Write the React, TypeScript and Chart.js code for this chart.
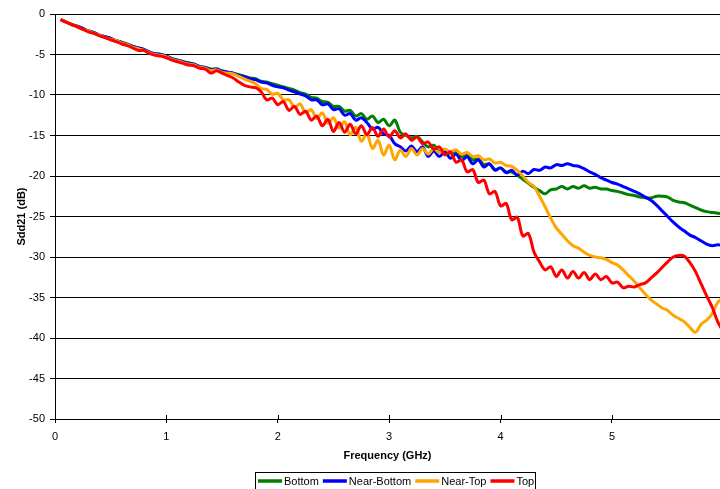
import { useEffect, useRef } from "react";
import { Chart, registerables } from "chart.js";

Chart.register(...registerables);

const FREQ_GHZ = [
  0.05, 0.1, 0.15, 0.2, 0.25, 0.3, 0.35, 0.4, 0.45, 0.5,
  0.55, 0.6, 0.65, 0.7, 0.75, 0.8, 0.85, 0.9, 0.95, 1.0,
  1.05, 1.1, 1.15, 1.2, 1.25, 1.3, 1.35, 1.4, 1.45, 1.5,
  1.55, 1.6, 1.65, 1.7, 1.75, 1.8, 1.85, 1.9, 1.95, 2.0,
  2.05, 2.1, 2.15, 2.2, 2.25, 2.3, 2.35, 2.4, 2.45, 2.5,
  2.55, 2.6, 2.65, 2.7, 2.75, 2.8, 2.85, 2.9, 2.95, 3.0,
  3.05, 3.1, 3.15, 3.2, 3.25, 3.3, 3.35, 3.4, 3.45, 3.5,
  3.55, 3.6, 3.65, 3.7, 3.75, 3.8, 3.85, 3.9, 3.95, 4.0,
  4.05, 4.1, 4.15, 4.2, 4.25, 4.3, 4.35, 4.4, 4.45, 4.5,
  4.55, 4.6, 4.65, 4.7, 4.75, 4.8, 4.85, 4.9, 4.95, 5.0,
  5.05, 5.1, 5.15, 5.2, 5.25, 5.3, 5.35, 5.4, 5.45, 5.5,
  5.55, 5.6, 5.65, 5.7, 5.75, 5.8, 5.85, 5.9, 5.95, 6.0,
];

const BOTTOM = [
  -0.7, -1.0, -1.3, -1.5, -1.8, -2.1, -2.3, -2.6, -2.8, -3.0,
  -3.3, -3.5, -3.7, -4.0, -4.2, -4.4, -4.7, -4.9, -5.0, -5.2,
  -5.5, -5.7, -5.9, -6.0, -6.2, -6.5, -6.6, -6.8, -6.8, -7.0,
  -7.2, -7.3, -7.5, -7.7, -7.9, -8.0, -8.3, -8.4, -8.6, -8.8,
  -9.0, -9.2, -9.4, -9.7, -9.9, -10.3, -10.4, -10.8, -10.9, -11.4,
  -11.4, -12.0, -11.9, -12.6, -12.3, -13.0, -12.6, -13.4, -13.0, -13.8,
  -13.1, -14.6, -15.0, -15.3, -15.1, -15.8, -16.4, -16.2, -17.0, -16.7,
  -17.2, -17.0, -17.6, -17.4, -18.0, -17.9, -18.6, -18.5, -19.2, -19.0,
  -19.5, -19.5, -19.9, -20.4, -20.9, -21.4, -21.8, -22.2, -21.7, -21.6,
  -21.3, -21.6, -21.3, -21.5, -21.2, -21.5, -21.4, -21.6, -21.6, -21.8,
  -21.9, -22.1, -22.3, -22.4, -22.6, -22.7, -22.7, -22.5, -22.5, -22.6,
  -23.0, -23.2, -23.3, -23.6, -23.9, -24.2, -24.4, -24.5, -24.6, -24.7,
];

const NEAR_BOTTOM = [
  -0.7, -1.0, -1.3, -1.5, -1.8, -2.1, -2.3, -2.6, -2.8, -3.0,
  -3.3, -3.5, -3.8, -4.0, -4.2, -4.4, -4.7, -4.9, -5.0, -5.2,
  -5.5, -5.7, -5.9, -6.1, -6.2, -6.5, -6.6, -6.9, -6.8, -7.1,
  -7.2, -7.3, -7.6, -7.7, -8.0, -8.1, -8.4, -8.5, -8.8, -9.0,
  -9.1, -9.4, -9.6, -9.9, -10.1, -10.6, -10.6, -11.2, -11.1, -11.8,
  -11.7, -12.5, -12.3, -13.1, -12.8, -13.4, -14.2, -14.0, -14.8, -15.0,
  -16.0, -16.4, -16.9, -16.3, -17.0, -16.4, -17.6, -16.9, -17.6, -17.0,
  -17.8, -17.3, -18.1, -17.6, -18.5, -18.0, -18.9, -18.5, -19.3, -19.0,
  -19.6, -19.3, -19.9, -19.4, -19.7, -19.2, -19.3, -18.9, -19.0, -18.6,
  -18.7, -18.5, -18.7, -18.8, -19.1, -19.5, -19.8, -20.2, -20.5, -20.8,
  -21.0, -21.3, -21.6, -21.9, -22.2, -22.6, -23.0, -23.6, -24.3, -25.0,
  -25.7, -26.3, -26.8, -27.3, -27.6, -28.0, -28.4, -28.6, -28.5, -28.6,
];

const NEAR_TOP = [
  -0.7, -1.0, -1.3, -1.6, -1.9, -2.1, -2.4, -2.6, -2.9, -3.1,
  -3.3, -3.6, -3.8, -4.1, -4.3, -4.5, -4.8, -5.0, -5.1, -5.3,
  -5.6, -5.8, -6.0, -6.2, -6.3, -6.6, -6.7, -7.0, -6.9, -7.2,
  -7.3, -7.4, -7.7, -8.0, -8.3, -8.6, -9.2, -9.3, -9.9, -9.8,
  -10.6, -10.6, -11.5, -11.1, -12.2, -11.8, -12.9, -12.2, -13.5, -12.8,
  -14.1, -13.3, -14.9, -14.0, -15.7, -14.8, -16.6, -15.6, -17.4, -16.2,
  -18.0, -16.8, -17.6, -16.6, -17.4, -16.6, -17.3, -16.6, -17.1, -16.7,
  -17.0, -16.8, -17.3, -17.1, -17.6, -17.5, -18.0, -17.9, -18.4, -18.3,
  -18.7, -18.8, -19.3, -20.0, -20.8, -21.3, -22.5, -23.8, -25.2, -26.4,
  -27.2, -28.0, -28.6, -28.9, -29.4, -29.8, -30.0, -30.1, -30.3, -30.7,
  -31.0, -31.6, -32.3, -33.0, -33.8, -34.6, -35.3, -35.8, -36.3, -36.6,
  -37.2, -37.6, -38.0, -38.7, -39.3, -38.3, -37.8, -37.0, -35.6, -35.0,
];

const TOP = [
  -0.7, -1.0, -1.3, -1.6, -1.9, -2.2, -2.4, -2.7, -2.9, -3.2,
  -3.4, -3.7, -3.9, -4.2, -4.5, -4.5, -4.9, -5.1, -5.2, -5.4,
  -5.7, -5.9, -6.1, -6.3, -6.4, -6.7, -6.8, -7.3, -7.0, -7.3,
  -7.6, -7.9, -8.4, -8.8, -9.0, -9.1, -9.6, -10.6, -10.4, -11.2,
  -10.8, -11.9, -11.4, -12.4, -12.0, -13.1, -12.6, -13.8, -13.0, -14.5,
  -13.4, -14.6, -13.6, -14.8, -13.8, -14.9, -14.0, -15.1, -14.2, -15.2,
  -14.4, -15.3, -14.8, -15.6, -15.2, -16.0, -15.8, -16.7, -16.4, -17.4,
  -17.0, -18.3, -18.0, -19.5, -19.2, -20.8, -20.5, -22.2, -21.9, -23.7,
  -23.4, -25.4, -25.1, -27.4, -27.1, -29.4, -30.6, -31.6, -31.2, -32.4,
  -31.6, -32.6, -31.8, -32.6, -31.9, -32.8, -32.1, -32.8, -32.4, -33.2,
  -33.1, -33.8, -33.6, -33.7, -33.4, -33.2, -32.6, -32.0, -31.3, -30.6,
  -30.0, -29.8, -29.9, -30.7, -31.8, -33.3, -34.8, -36.2, -38.0, -39.2,
];

const SERIES_NAMES = ["Bottom", "Near-Bottom", "Near-Top", "Top"];
const SERIES_VALUES = [BOTTOM, NEAR_BOTTOM, NEAR_TOP, TOP];
const SERIES_COLORS = ["#008000", "#0000FF", "#FFA500", "#FF0000"];

const X_MIN = 0;
const X_MAX = 5.97;
const Y_MIN = -50;
const Y_MAX = 0;
const X_TITLE = "Frequency (GHz)";
const Y_TITLE = "Sdd21 (dB)";

const FONT_FAMILY = 'Arial, "Liberation Sans", sans-serif';

const boxLegend = {
  id: "boxLegend",
  afterDraw(chart: any) {
    const ctx = chart.ctx as CanvasRenderingContext2D;
    ctx.save();
    ctx.font = `11px ${FONT_FAMILY}`;
    const lineW = 24;
    const gapText = 2;
    const gapItem = 4;
    const pad = 2;
    const widths = SERIES_NAMES.map((n) => ctx.measureText(n).width);
    const total =
      widths.reduce((a, w) => a + lineW + gapText + w, 0) +
      gapItem * (SERIES_NAMES.length - 1) +
      pad * 2;
    const cx = 395;
    const left = Math.round(cx - total / 2);
    const top = 472;
    ctx.strokeStyle = "#000";
    ctx.lineWidth = 1;
    ctx.strokeRect(left + 0.5, top + 0.5, Math.round(total), 40);
    let x = left + pad + 1;
    const y = 481;
    SERIES_NAMES.forEach((name, i) => {
      ctx.strokeStyle = SERIES_COLORS[i];
      ctx.lineWidth = 3.5;
      ctx.beginPath();
      ctx.moveTo(x, y);
      ctx.lineTo(x + lineW, y);
      ctx.stroke();
      x += lineW + gapText;
      ctx.fillStyle = "#000";
      ctx.textBaseline = "middle";
      ctx.textAlign = "left";
      ctx.fillText(name, x, y + 0.5);
      x += widths[i] + gapItem;
    });
    ctx.restore();
  },
};

const upTicks = {
  id: "upTicks",
  afterDatasetsDraw(chart: any) {
    const ctx = chart.ctx as CanvasRenderingContext2D;
    const xs = chart.scales.x;
    const bottom = chart.chartArea.bottom;
    ctx.save();
    ctx.strokeStyle = "#000";
    ctx.lineWidth = 1;
    xs.ticks.forEach((t: any) => {
      const px = Math.round(xs.getPixelForValue(t.value)) + 0.5;
      ctx.beginPath();
      ctx.moveTo(px, bottom - 4);
      ctx.lineTo(px, bottom);
      ctx.stroke();
    });
    ctx.restore();
  },
};

export default function App() {
  const canvasRef = useRef<HTMLCanvasElement | null>(null);

  useEffect(() => {
    document.body.style.margin = "0";
    const canvas = canvasRef.current;
    if (!canvas) return;

    const datasets = SERIES_NAMES.map((name, i) => ({
      label: name,
      data: FREQ_GHZ.map((f, j) => ({ x: f, y: SERIES_VALUES[i][j] })),
      borderColor: SERIES_COLORS[i],
      backgroundColor: SERIES_COLORS[i],
      borderWidth: 3,
      pointRadius: 0,
      tension: 0.35,
      fill: false,
      order: SERIES_NAMES.length - 1 - i,
    }));

    const chart = new Chart(canvas, {
      type: "line",
      data: { datasets },
      options: {
        animation: false,
        responsive: true,
        maintainAspectRatio: false,
        layout: { padding: { top: 14, right: 0, left: 0, bottom: 0 } },
        plugins: {
          legend: { display: false },
          tooltip: { enabled: false },
        },
        scales: {
          x: {
            type: "linear",
            min: X_MIN,
            max: X_MAX,
            afterFit: (s: any) => {
              s.height = 70;
            },
            ticks: {
              stepSize: 1,
              includeBounds: false,
              color: "#000",
              padding: 7,
              maxRotation: 0,
              font: { family: FONT_FAMILY, size: 11 },
            },
            grid: {
              drawOnChartArea: false,
              drawTicks: true,
              tickLength: 4,
              color: "#000",
            },
            border: { display: true, color: "#000", width: 1 },
            title: {
              display: true,
              text: X_TITLE,
              color: "#000",
              font: { family: FONT_FAMILY, size: 11, weight: "bold" },
              padding: { top: 0, bottom: 26 },
            },
          },
          y: {
            type: "linear",
            min: Y_MIN,
            max: Y_MAX,
            afterFit: (s: any) => {
              s.width = 55;
            },
            ticks: {
              stepSize: 5,
              color: "#000",
              padding: 5,
              font: { family: FONT_FAMILY, size: 11 },
            },
            grid: {
              drawOnChartArea: true,
              drawTicks: true,
              tickLength: 5,
              color: "#000",
              lineWidth: 1,
            },
            border: { display: true, color: "#000", width: 1 },
            title: {
              display: true,
              text: Y_TITLE,
              color: "#000",
              font: { family: FONT_FAMILY, size: 11, weight: "bold" },
              padding: { top: 15, bottom: 0 },
            },
          },
        },
      },
      plugins: [upTicks, boxLegend],
    });

    return () => chart.destroy();
  }, []);

  return (
    <div style={{ width: 720, height: 489, position: "relative" }}>
      <canvas ref={canvasRef} />
    </div>
  );
}
